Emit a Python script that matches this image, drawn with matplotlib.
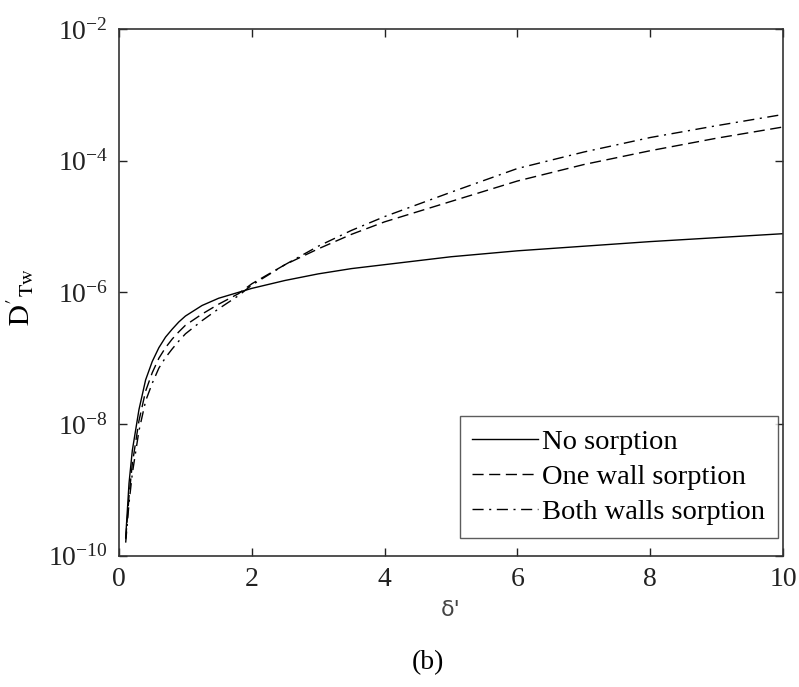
import numpy as np
import matplotlib
matplotlib.use("Agg")
import matplotlib.pyplot as plt

plt.rcParams['font.family'] = ['Liberation Serif', 'DejaVu Serif']
plt.rcParams['mathtext.fontset'] = 'stix'

# 数据（从图上读出的 log10 值）
delta = [0.1, 0.15, 0.2, 0.3, 0.4, 0.5, 0.6, 0.7, 0.8, 0.9, 1.0, 1.25, 1.5, 1.8, 2.0,
         2.5, 3.0, 3.5, 4.0, 5.0, 6.0, 7.0, 8.0, 9.0, 10.0]
log_no = [-9.72, -8.9, -8.4, -7.78, -7.33, -7.05, -6.84, -6.68, -6.56, -6.45, -6.36, -6.20,
          -6.09, -6.0, -5.94, -5.82, -5.72, -5.64, -5.58, -5.46, -5.37, -5.30,
          -5.23, -5.17, -5.11]
log_one = [-9.75, -9.1, -8.6, -7.95, -7.5, -7.22, -7.0, -6.84, -6.71, -6.60, -6.50, -6.33,
           -6.18, -6.02, -5.87, -5.58, -5.34, -5.12, -4.93, -4.62, -4.31, -4.06,
           -3.85, -3.66, -3.49]
log_both = [-9.8, -9.2, -8.75, -8.1, -7.65, -7.38, -7.15, -6.99, -6.86, -6.74, -6.63, -6.43,
            -6.25, -6.05, -5.89, -5.58, -5.30, -5.06, -4.85, -4.48, -4.12, -3.87,
            -3.65, -3.47, -3.30]
labels = ['No sorption', 'One wall sorption', 'Both walls sorption']

fig = plt.figure(figsize=(7.99, 6.87), dpi=100)
ax = fig.add_axes([0.149, 0.191, 0.831, 0.767])

ax.plot(delta, 10 ** np.array(log_no), color='black', lw=1.0, ls='-', label=labels[0])
ax.plot(delta, 10 ** np.array(log_one), color='black', lw=1.0, ls=(0, (8, 4)), label=labels[1])
ax.plot(delta, 10 ** np.array(log_both), color='black', lw=1.0, ls=(0, (8, 4, 1.5, 4)), label=labels[2])

ax.set_yscale('log')
ax.set_xlim(0, 10)
ax.set_ylim(1e-10, 1e-2)
ax.set_yticks([1e-10, 1e-8, 1e-6, 1e-4, 1e-2])
ax.set_xticks([0, 2, 4, 6, 8, 10])
ax.minorticks_off()
ax.tick_params(direction='in', length=6, width=1, top=True, right=True,
               labelsize=20, colors='#222222', pad=8)
for s in ax.spines.values():
    s.set_linewidth(1.2)
    s.set_color('#333333')

ax.set_xlabel("δ'", fontsize=16, color='#444444', family=['DejaVu Sans'], labelpad=6)
ax.set_ylabel(r"$\mathrm{D}'_{\mathrm{Tw}}$", fontsize=21)
ax.yaxis.set_label_coords(-0.125, 0.49)

leg = ax.legend(loc='lower right', bbox_to_anchor=(0.9925, 0.034), fontsize=20.5,
                frameon=True, fancybox=False, handlelength=2.3, handletextpad=0.15,
                borderpad=0.45, labelspacing=0.32, borderaxespad=0)
leg.get_frame().set_edgecolor('#333333')
leg.get_frame().set_linewidth(1.0)

fig.text(0.536, 0.035, '(b)', fontsize=20, ha='center', va='center')

plt.savefig('out.png', dpi=100)
